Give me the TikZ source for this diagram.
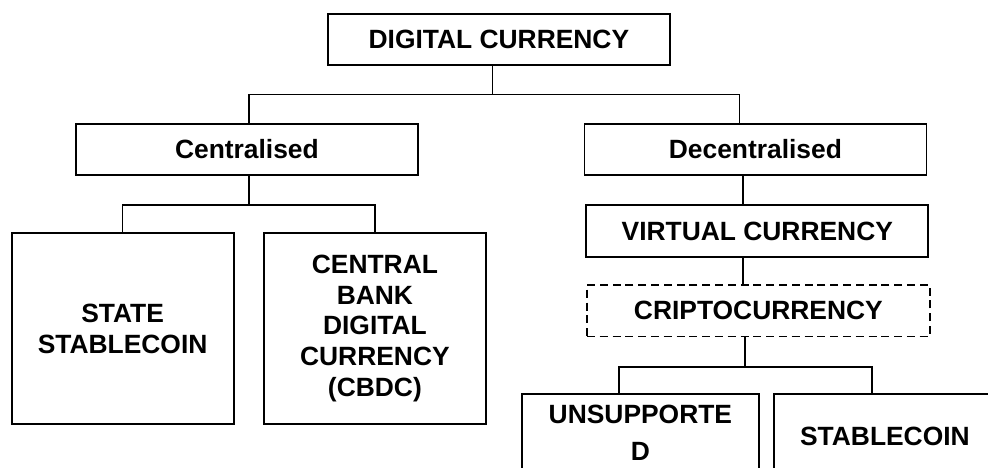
\documentclass[tikz,border=0pt]{standalone}
\usepackage{fontspec}
\setmainfont{Liberation Sans}
\usepackage{tikz}

\begin{document}
\begin{tikzpicture}[
  x=0.5pt, y=-0.5pt,
  box/.style={draw, line width=0.9pt, anchor=north west, align=center, inner sep=0pt,
    font=\fontsize{13.2}{15.3}\selectfont\bfseries},
  wide/.style={box, minimum width=171pt, minimum height=25.8pt},
  leaf/.style={box, minimum width=111pt, minimum height=#1},
  cryptobox/.style={wide, dash pattern=on 4pt off 2.4pt},
  link/.style={line width=0.8pt},
]

\clip (0,0) rectangle (988,467);

% top level
\node[wide, minimum height=25.5pt] (digital) at (327,12.7) {DIGITAL CURRENCY};

% second level
\node[wide] (central) at (75,122.7) {Centralised};
\node[wide] (decentral) at (583.5,122.7) {Decentralised};

% centralised branch
\node[leaf=95.5pt] (statecoin) at (10.7,232.3) {STATE\\STABLECOIN};
\node[leaf=95.3pt] (cbdc) at (263,232.3) {CENTRAL\\BANK\\DIGITAL\\CURRENCY\\(CBDC)};

% decentralised branch
\node[wide] (virtual) at (585.4,204.3) {VIRTUAL CURRENCY};
\node[cryptobox, minimum width=171.5pt] (crypto) at (586,284) {CRIPTOCURRENCY};
\node[box, minimum width=118.5pt, minimum height=38.5pt] (unsupported) at (521,393.3) {UNSUPPORTE\\[3pt]D};
\node[leaf=42pt] (stablecoin) at (773,393.3) {STABLECOIN};

% connectors
\draw[link] ([xshift=-3.25pt]digital.south) -- ++(0,29) coordinate (topbar);
\draw[link] ([xshift=1pt]central.north) |- (topbar) -| ([xshift=-8pt]decentral.north);

\draw[link] ([xshift=1pt]central.south) -- ++(0,29) coordinate (leftbar);
\draw[link] (statecoin.north) |- (leftbar) -| (cbdc.north);

\draw[link] ([xshift=-7.2pt]virtual.north) -- ([xshift=-7.2pt]virtual.north |- decentral.south);
\draw[link] ([xshift=-7.2pt]virtual.south) -- ([xshift=-7.2pt]virtual.south |- crypto.north);

\draw[link] ([xshift=-6.75pt]crypto.south) -- ++(0,29.6) coordinate (rightbar);
\draw[link] ([xshift=-10.75pt]unsupported.north) |- (rightbar) -| ([xshift=-6.5pt]stablecoin.north);

\end{tikzpicture}
\end{document}
